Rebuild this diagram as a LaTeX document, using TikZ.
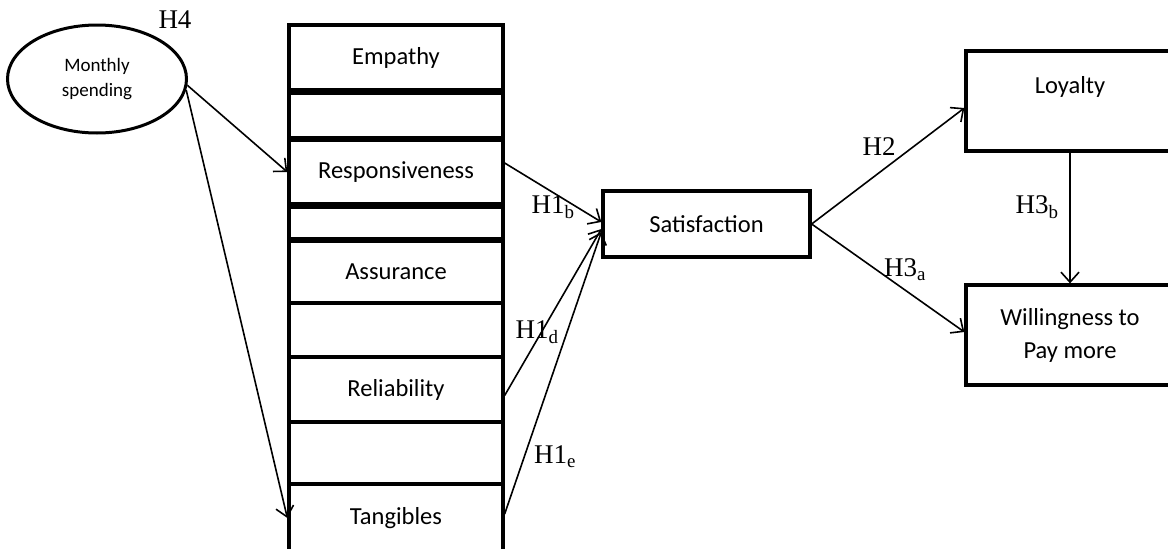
\documentclass[tikz,border=0pt]{standalone}
\usepackage{fontspec}
\setmainfont{Liberation Serif}
\newfontfamily\boxfont{Carlito}
\usetikzlibrary{arrows.meta,shapes.geometric}
\begin{document}
\begin{tikzpicture}[x=1pt,y=-1pt,
  box/.style={draw, line width=3.3pt, minimum width=214pt, inner sep=0pt,
    font=\boxfont\fontsize{24.5}{28}\selectfont},
  rbox/.style={draw, line width=3.3pt, minimum width=208pt, inner sep=0pt,
    font=\boxfont\fontsize{24.5}{33}\selectfont, align=center},
  boxtext/.style={inner sep=0pt, font=\boxfont\fontsize{24.5}{28}\selectfont},
  conn/.style={line width=1.6pt, -{Straight Barb[length=10pt,width=18pt]}},
  hlab/.style={inner sep=0pt, font=\fontsize{27}{30}\selectfont}]
\useasboundingbox (0,0) rectangle (1168,549);
% left ellipse
\node[draw, ellipse, line width=3pt, minimum width=179pt, minimum height=108pt,
  inner sep=0pt, align=center, font=\boxfont\fontsize{19}{25}\selectfont] (ms) at (97,79) {Monthly\\spending};
\node[hlab] (h4) at (175,20) {H4};
% stack of boxes
\node[box, minimum height=65pt] (emp) at (396,57.5) {Empathy};
\node[box, minimum height=45pt] (b1) at (396,115.5) {};
\node[box, minimum height=64pt] (resp) at (396,172) {Responsiveness};
\node[box, minimum height=32pt] (b2) at (396,223) {};
\node[box, minimum height=62pt] (assu) at (396,272) {Assurance};
\node[box, minimum height=54pt] (b3) at (396,330) {};
\node[box, minimum height=65pt] (rel) at (396,389.5) {Reliability};
\node[box, minimum height=62pt] (b4) at (396,453) {};
\node[box, minimum height=68pt] (tang) at (396,518) {Tangibles};
% middle and right boxes
\node[draw, line width=3.3pt, minimum width=207pt, minimum height=66pt, inner sep=0pt,
  font=\boxfont\fontsize{24.5}{28}\selectfont] (sat) at (706.5,224) {Satisfaction};
\node[rbox, minimum height=100pt] (loy) at (1070,101) {};
\node[boxtext] (loyt) at ([yshift=14pt]loy.center) {Loyalty};
\node[rbox, minimum height=100pt] (will) at (1070,335) {Willingness to\\Pay more};
% connectors
\draw[conn] (ms.-4) -- (resp.west);
\draw[conn] (ms.-7) -- (tang.west);
\draw[conn] ([yshift=9pt]resp.east) -- ([yshift=2pt]sat.west);
\draw[conn] ([yshift=-6pt]rel.east) -- ([yshift=-5pt]sat.west);
\draw[conn] ([yshift=4pt]tang.east) -- ([yshift=-8pt]sat.west);
\draw[conn] (sat.east) -- ([yshift=-7pt]loy.west);
\draw[conn] (sat.east) -- ([yshift=3pt]will.west);
\draw[conn] (loy.south) -- (will.north);
% labels
\node[hlab] (h1b) at (553,207) {H1\textsubscript{b}};
\node[hlab] (h1d) at (537,332) {H1\textsubscript{d}};
\node[hlab] (h1e) at (555,457) {H1\textsubscript{e}};
\node[hlab] (h2) at (879,147) {H2};
\node[hlab] (h3a) at (905,270) {H3\textsubscript{a}};
\node[hlab] (h3b) at (1037,207) {H3\textsubscript{b}};
\end{tikzpicture}
\end{document}
